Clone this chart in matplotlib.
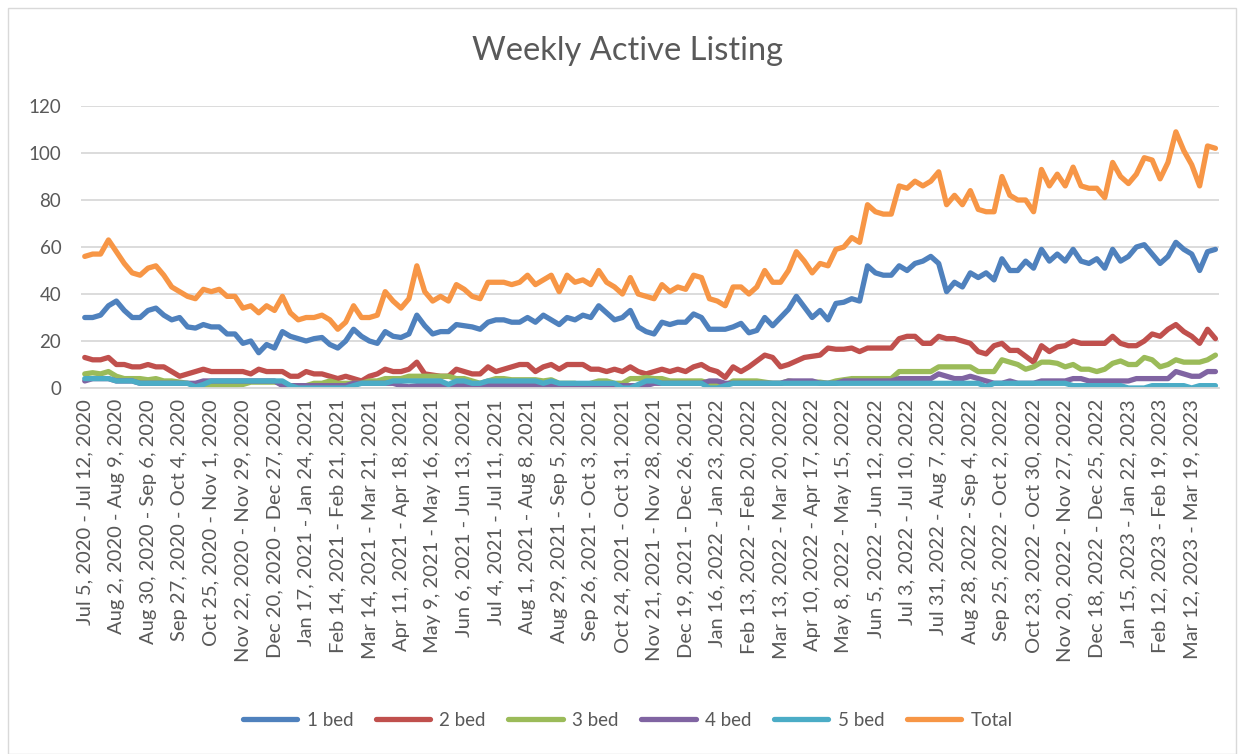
import matplotlib.pyplot as plt
from matplotlib.patches import Rectangle

# Wekelijkse waarden (144 weken, Jul 5 2020 - ~Apr 2023)
total = [56, 57, 57, 63, 58, 53, 49, 48, 51, 52, 48, 43, 41, 39, 38, 42, 41, 42, 39, 39,
         34, 35, 32, 35, 33, 39, 32, 29, 30, 30, 31, 29, 25, 28, 35, 30, 30, 31, 41, 37,
         34, 38, 52, 41, 37, 39, 37, 44, 42, 39, 38, 45, 45, 45, 44, 45, 48, 44, 46, 48,
         41, 48, 45, 46, 44, 50, 45, 43, 40, 47, 40, 39, 38, 44, 41, 43, 42, 48, 47, 38,
         37, 35, 43, 43, 40, 43, 50, 45, 45, 50, 58, 54, 49, 53, 52, 59, 60, 64, 62, 78,
         75, 74, 74, 86, 85, 88, 86, 88, 92, 78, 82, 78, 84, 76, 75, 75, 90, 82, 80, 80,
         75, 93, 86, 91, 86, 94, 86, 85, 85, 81, 96, 90, 87, 91, 98, 97, 89, 96, 109, 101,
         95, 86, 103, 102]
bed1 = [30, 30, 31, 35, 37, 33, 30, 30, 33, 34, 31, 29, 30, 26, 25.5, 27, 26, 26, 23, 23,
        19, 20, 15, 18.5, 17, 24, 22, 21, 20, 21, 21.5, 18.5, 17, 20, 25, 22, 20, 19, 24, 22,
        21.5, 23, 31, 26.5, 23, 24, 24, 27, 26.5, 26, 25, 28, 29, 29, 28, 28, 30, 28, 31, 29,
        27, 30, 29, 31, 30, 35, 32, 29, 30, 33, 26, 24, 23, 28, 27, 28, 28, 31.5, 30, 25,
        25, 25, 26, 27.5, 23.5, 24.5, 30, 26.5, 30, 33.5, 39, 34.5, 30, 33, 29, 36, 36.5, 38, 37, 52,
        49, 48, 48, 52, 50, 53, 54, 56, 53, 41, 45, 43, 49, 47, 49, 46, 55, 50, 50, 54,
        51, 59, 54, 57, 54, 59, 54, 53, 55, 51, 59, 54, 56, 60, 61, 57, 53, 56, 62, 59,
        57, 50, 58, 59]
bed2 = [13, 12, 12, 13, 10, 10, 9, 9, 10, 9, 9, 7, 5, 6, 7, 8, 7, 7, 7, 7,
        7, 6, 8, 7, 7, 7, 5, 5, 7, 6, 6, 5, 4, 5, 4, 3, 5, 6, 8, 7,
        7, 8, 11, 6, 5.5, 5, 5, 8, 7, 6, 6, 9, 7, 8, 9, 10, 10, 7, 9, 10,
        8, 10, 10, 10, 8, 8, 7, 8, 7, 9, 7, 6, 7, 8, 7, 8, 7, 9, 10, 8,
        7, 4.5, 9, 7, 9, 11.5, 14, 13, 9, 10, 11.5, 13, 13.5, 14, 17, 16.5, 16.5, 17, 15.5, 17,
        17, 17, 17, 21, 22, 22, 19, 19, 22, 21, 21, 20, 19, 15.5, 14.5, 18, 19, 16, 16, 13.5,
        11, 18, 15.5, 17.5, 18, 20, 19, 19, 19, 19, 22, 19, 18, 18, 20, 23, 22, 25, 27, 24,
        22, 19, 25, 21]
bed3 = [6, 6.5, 6, 7, 5, 4, 4, 4, 3.5, 4, 3, 3, 2.5, 2, 1.5, 1, 1, 1, 1, 1,
        1.5, 2.5, 2.5, 2.5, 2.5, 2, 1, 1, 1, 2, 2, 3, 2, 2, 2, 2, 3, 3, 4, 4,
        4, 5, 5, 5, 5, 5, 5, 4, 4, 3, 2, 3, 4, 4, 3.5, 3.5, 3.5, 3.5, 3, 3.5,
        2, 2, 2, 1, 2, 3, 3, 2, 2, 4, 4, 4.5, 4, 4, 3, 3, 3, 3, 3, 2,
        1, 1, 3, 3, 3, 3, 2.5, 2, 2, 3, 2.5, 2.5, 2.5, 2.5, 2, 3, 3.5, 4, 4, 4,
        4, 4, 4, 7, 7, 7, 7, 7, 9, 9, 9, 9, 9, 7, 7, 7, 12, 11, 10, 8,
        9, 11, 11, 10.5, 9, 10, 8, 8, 7, 8, 10.5, 11.5, 10, 10, 13, 12, 9, 10, 12, 11,
        11, 11, 12, 14]
bed4 = [3, 4, 4, 4, 3, 3, 3, 2, 2, 2, 2, 2, 2, 2, 2, 3, 3, 3, 3, 3,
        3, 3, 3, 3, 3, 1, 1, 1, 1, 1, 1, 1, 1, 1, 2, 2, 2, 2, 2, 2,
        1, 0.5, 1, 1, 1, 1, 1, 1, 1, 1, 1, 1, 1, 1, 1, 1, 1, 1, 1, 1,
        0, 1, 1, 1, 1, 1, 1, 1, 1, 1, 1, 1, 2, 2, 2, 2, 2, 2, 2, 3,
        3, 2, 2, 2, 2, 2, 2, 2, 2, 3, 3, 3, 3, 2, 2, 2, 3, 3, 3, 3,
        3, 3, 3, 4, 4, 4, 4, 4, 6, 5, 4, 4, 5, 4, 3, 2, 2, 3, 2, 2,
        2, 3, 3, 3, 3, 4, 4, 3, 3, 3, 3, 3, 3, 4, 4, 4, 4, 4, 7, 6,
        5, 5, 7, 7]
bed5 = [4, 4, 4, 4, 3, 3, 3, 2, 2, 2, 2, 2, 2, 2, 0.5, 1.5, 3, 3, 3, 3,
        3, 3, 3, 3, 3, 3, 1, 0, 0, 0, 0, 0, 0, 0, 1, 2, 2, 2, 2, 3,
        3, 3, 3, 3, 3, 3, 1.5, 3, 3, 2, 2, 3, 3, 3, 3, 3, 3, 3, 2, 3,
        2, 2, 2, 2, 2, 2, 2, 2, 0, 0, 1.5, 3, 3, 2, 2, 2, 2, 2, 2, 0,
        0, 1, 2, 2, 2, 2, 2, 2, 2, 2, 2, 2, 2, 2, 2, 2, 2, 2, 2, 2,
        2, 2, 2, 2, 2, 2, 2, 2, 2, 2, 2, 2, 2, 2, 0.5, 2, 2, 2, 2, 2,
        2, 2, 2, 2, 2, 1, 1, 1, 1, 1, 1, 1, 0, 0, 0, 1, 1, 1, 1, 1,
        0, 1, 1, 1]

# Labels die op de x-as staan (elke 4e week)
tick_labels = [
    "Jul 5, 2020 - Jul 12, 2020", "Aug 2, 2020 - Aug 9, 2020", "Aug 30, 2020 - Sep 6, 2020",
    "Sep 27, 2020 - Oct 4, 2020", "Oct 25, 2020 - Nov 1, 2020", "Nov 22, 2020 - Nov 29, 2020",
    "Dec 20, 2020 - Dec 27, 2020", "Jan 17, 2021 - Jan 24, 2021", "Feb 14, 2021 - Feb 21, 2021",
    "Mar 14, 2021 - Mar 21, 2021", "Apr 11, 2021 - Apr 18, 2021", "May 9, 2021 - May 16, 2021",
    "Jun 6, 2021 - Jun 13, 2021", "Jul 4, 2021 - Jul 11, 2021", "Aug 1, 2021 - Aug 8, 2021",
    "Aug 29, 2021 - Sep 5, 2021", "Sep 26, 2021 - Oct 3, 2021", "Oct 24, 2021 - Oct 31, 2021",
    "Nov 21, 2021 - Nov 28, 2021", "Dec 19, 2021 - Dec 26, 2021", "Jan 16, 2022 - Jan 23, 2022",
    "Feb 13, 2022 - Feb 20, 2022", "Mar 13, 2022 - Mar 20, 2022", "Apr 10, 2022 - Apr 17, 2022",
    "May 8, 2022 - May 15, 2022", "Jun 5, 2022 - Jun 12, 2022", "Jul 3, 2022 - Jul 10, 2022",
    "Jul 31, 2022 - Aug 7, 2022", "Aug 28, 2022 - Sep 4, 2022", "Sep 25, 2022 - Oct 2, 2022",
    "Oct 23, 2022 - Oct 30, 2022", "Nov 20, 2022 - Nov 27, 2022", "Dec 18, 2022 - Dec 25, 2022",
    "Jan 15, 2023 - Jan 22, 2023", "Feb 12, 2023 - Feb 19, 2023", "Mar 12, 2023 - Mar 19, 2023",
]

series = [("1 bed", bed1, "#4F81BD"), ("2 bed", bed2, "#C0504D"), ("3 bed", bed3, "#9BBB59"),
          ("4 bed", bed4, "#8064A2"), ("5 bed", bed5, "#4BACC6"), ("Total", total, "#F79646")]

plt.rcParams['font.family'] = ['Lato', 'DejaVu Sans']
fig = plt.figure(figsize=(12.43, 7.54), dpi=100)
ax = fig.add_axes([0.065, 0.4854, 0.916, 0.374])

x = list(range(len(total)))
for name, vals, col in series:
    ax.plot(x, vals, color=col, lw=3.8, label=name, solid_joinstyle='round', solid_capstyle='round')

ax.set_xlim(-0.5, len(total) - 0.5)
ax.set_ylim(0, 120)
ax.set_yticks(range(0, 121, 20))
ax.set_xticks(x[::4])
ax.set_xticklabels(tick_labels, rotation=90, va='top', ha='center')
ax.tick_params(axis='x', length=0, labelsize=14.5, labelcolor='#595959', pad=8)
ax.tick_params(axis='y', length=0, labelsize=13.5, labelcolor='#595959', pad=14)
ax.grid(axis='y', color='#D9D9D9', lw=1.3)
ax.set_axisbelow(True)
for s in ['top', 'right', 'left']:
    ax.spines[s].set_visible(False)
ax.spines['bottom'].set_color('#D9D9D9')
ax.spines['bottom'].set_linewidth(1.3)

fig.text(0.505, 0.932, "Weekly Active Listing", ha='center', va='center', fontsize=23.5, color='#595959')

fig.legend(loc='center', bbox_to_anchor=(0.505, 0.045), ncol=6, frameon=False,
           fontsize=13.5, handlelength=2.9, columnspacing=1.2, handletextpad=0.5,
           labelcolor='#595959')

# Rand van het grafiekgebied
fig.patches.append(Rectangle((8 / 1243, 0), 1228 / 1243, 1 - 8 / 754, transform=fig.transFigure,
                             fill=False, edgecolor='#D9D9D9', lw=1))

fig.savefig('out.png', dpi=100)
